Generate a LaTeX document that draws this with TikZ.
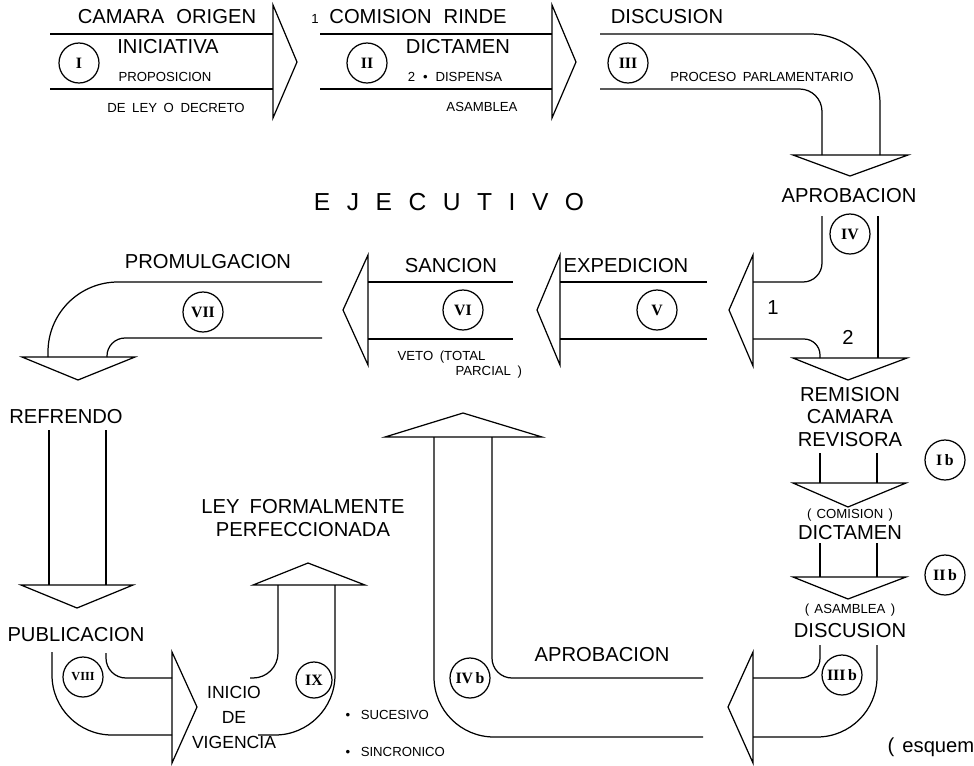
\documentclass[tikz,border=0pt]{standalone}
\usepackage{fontspec}
\setmainfont{Liberation Sans}
\newfontfamily\numfont{Liberation Serif}
\newcommand\ejsp{\hspace{9.4pt}}
\begin{document}
\begin{tikzpicture}[x=0.02cm,y=-0.02cm,line width=0.7pt,
    big/.style={inner sep=0pt,font=\fontsize{11.5}{13}\selectfont},
    small/.style={inner sep=0pt,font=\fontsize{7.5}{9}\selectfont},
    num/.style={draw,circle,minimum size=0.8cm,inner sep=0pt,
      font=\numfont\bfseries\fontsize{9}{10}\selectfont}]
  \useasboundingbox (0,0) rectangle (974,765);
  \draw (50,34) -- (273,34) (50,89) -- (273,89);
  \draw (273,5) -- (297,62) -- (273,118) -- cycle;
  \draw (320,34) -- (552,34) (320,89) -- (552,89);
  \draw (552,5) -- (576,62) -- (552,118) -- cycle;
  \draw[rounded corners=1.4cm] (600,34) -| (880,155);
  \draw[rounded corners=0.45cm] (600,89) -| (822,155);
  \draw (793,155) -- (850,176) -- (908,155) -- cycle;
  \begin{scope}
    \draw[rounded corners=0.38cm] (822,216) |- (753,282);
    \draw (878,216) -- (878,358);
    \draw[rounded corners=0.32cm] (753,339) -| (820,358);
    \draw (753,255) -- (729,310) -- (753,366) -- cycle;
    \draw (793,358) -- (848,380) -- (907,358) -- cycle;
  \end{scope}
  \draw (560,282) -- (707,282) (560,339) -- (707,339);
  \draw (560,255) -- (537,310) -- (560,365) -- cycle;
  \draw (368,282) -- (513,282) (368,339) -- (513,339);
  \draw (368,255) -- (343,310) -- (368,365) -- cycle;
  \draw[rounded corners=1.4cm] (322,282) -| (48,357);
  \draw[rounded corners=0.36cm] (322,338) -| (107,357);
  \draw (22,357) -- (78,380) -- (135,357) -- cycle;
  \draw (49,430) -- (49,585) (106,430) -- (106,585);
  \draw (21,585) -- (77,608) -- (133,585) -- cycle;
  \draw[rounded corners=1.2cm] (52,652) |- (172,735);
  \draw[rounded corners=0.4cm] (106,653) |- (172,678);
  \draw (172,652) -- (197,707) -- (172,763) -- cycle;
  \draw[rounded corners=0.5cm] (250,678) -| (278,585);
  \draw[rounded corners=1.2cm] (258,735) -| (335,585);
  \draw (253,585) -- (308,563) -- (365,585) -- cycle;
  \draw[rounded corners=1.2cm] (703,737) -| (434,437);
  \draw[rounded corners=0.4cm] (703,678) -| (492,437);
  \draw (385,437) -- (463,413) -- (542,437) -- cycle;
  \begin{scope}
    \draw (820,453) -- (820,483) (877,453) -- (877,483);
    \draw (793,483) -- (848,507) -- (906,483) -- cycle;
    \draw (820,543) -- (820,577) (877,543) -- (877,577);
    \draw (793,577) -- (848,599) -- (906,577) -- cycle;
    \draw[rounded corners=0.4cm] (820,645) |- (753,678);
    \draw[rounded corners=1.2cm] (877,645) |- (753,737);
    \draw (753,652) -- (728,707) -- (753,763) -- cycle;
  \end{scope}
  \node[big] (camara) at (167,17) {CAMARA\hspace{0.6em}ORIGEN};
  \node[big] (inic) at (168,47) {INICIATIVA};
  \node[small] (propos) at (165,77) {PROPOSICION};
  \node[small] (decreto) at (176,108) {DE\hspace{0.5em}LEY\hspace{0.5em}O\hspace{0.5em}DECRETO};
  \node[small] (uno) at (315,19) {1};
  \node[big] (comision) at (418,17) {COMISION\hspace{0.6em}RINDE};
  \node[big] (dictamen) at (458,47) {DICTAMEN};
  \node[small] (dispensa) at (455,77) {2\hspace{0.6em}•\hspace{0.6em}DISPENSA};
  \node[small] (asamblea) at (482,107) {ASAMBLEA};
  \node[big] (discusion) at (667,17) {DISCUSION};
  \node[small] (proceso) at (762,77) {PROCESO\hspace{0.5em}PARLAMENTARIO};
  \node[big] (aprob) at (849,196) {APROBACION};
  \node[inner sep=0pt,font=\fontsize{14}{16}\selectfont] (ejec) at (449,202)
    {E\ejsp J\ejsp E\ejsp C\ejsp U\ejsp T\ejsp I\ejsp V\ejsp O};
  \node[big] (promul) at (208,262) {PROMULGACION};
  \node[big] (sancion) at (451,266) {SANCION};
  \node[big] (exped) at (626,266) {EXPEDICION};
  \node[small,anchor=west] (veto) at (397,357) {VETO\hspace{0.5em}(TOTAL};
  \node[small,anchor=west] (parcial) at (455,372) {PARCIAL\hspace{0.5em})};
  \node[big] (rama1) at (773,308) {1};
  \node[big] (rama2) at (848,337) {2};
  \node[big] (refrendo) at (66,417) {REFRENDO};
  \node[big,align=center] (remision) at (850,417) {REMISION\\CAMARA\\REVISORA};
  \node[small] (comis2) at (850,515) {(\hspace{0.4em}COMISION\hspace{0.4em})};
  \node[big] (dictamen2) at (850,533) {DICTAMEN};
  \node[small] (asam2) at (850,610) {(\hspace{0.4em}ASAMBLEA\hspace{0.4em})};
  \node[big] (discusion2) at (850,631) {DISCUSION};
  \node[big] (aprob2) at (602,655) {APROBACION};
  \node[big,align=center] (ley) at (303,518) {LEY\hspace{0.5em}FORMALMENTE\\PERFECCIONADA};
  \node[big] (public) at (76,635) {PUBLICACION};
  \node[align=center,inner sep=0pt,font=\fontsize{10}{14.2}\selectfont] (inicio) at (234,717) {INICIO\\DE\\VIGENCIA};
  \node[small,anchor=west] (suces) at (345,715) {•\hspace{0.8em}SUCESIVO};
  \node[small,anchor=west] (sincr) at (345,752) {•\hspace{0.8em}SINCRONICO};
  \node[big,anchor=west] (esquema) at (887,747) {(\hspace{0.4em}esquem};
  \node[num] (c1) at (79,63) {I};
  \node[num] (c2) at (367,63) {II};
  \node[num] (c3) at (628,63) {III};
  \node[num] (c4) at (850,234) {IV};
  \node[num] (c5) at (657,310) {V};
  \node[num] (c6) at (463,310) {VI};
  \node[num] (c7) at (203,312) {VII};
  \node[num,font=\numfont\bfseries\fontsize{7}{8}\selectfont] (c8) at (83,677) {VIII};
  \node[num,minimum size=0.72cm] (c9) at (314,680) {IX};
  \node[num] (c1b) at (945,460) {I\,b};
  \node[num] (c2b) at (945,575) {II\,b};
  \node[num] (c3b) at (842,675) {III\,b};
  \node[num] (c4b) at (470,678) {IV\,b};
\end{tikzpicture}
\end{document}
